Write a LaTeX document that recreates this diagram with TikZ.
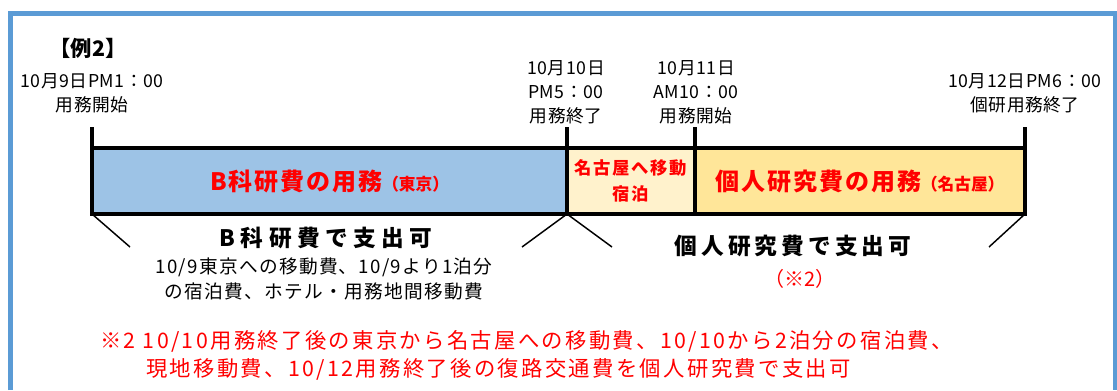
\documentclass[tikz,border=0pt]{standalone}
\usepackage{fontspec}
\setmainfont{Noto Sans CJK JP}
\usetikzlibrary{positioning}

\definecolor{frameblue}{HTML}{5B9BD5}
\definecolor{kakenblue}{HTML}{9DC3E6}
\definecolor{stayyellow}{HTML}{FFF2CC}
\definecolor{privyellow}{HTML}{FFE699}
\definecolor{notered}{HTML}{FF0000}

\begin{document}
\begin{tikzpicture}
[x=0.75pt, y=-0.75pt, inner sep=0pt, line join=miter]
\tikzstyle{frame}=[draw=frameblue, line width=3.4pt]
\tikzstyle{seg}=[rectangle, draw, line width=3pt, outer sep=0pt, minimum height=49.5pt, align=center, text=notered]
\tikzstyle{tick}=[line width=3pt]
\tikzstyle{brace}=[line width=1.1pt]
\tikzstyle{date}=[align=center, font=\fontsize{13.3}{18}\selectfont\addfontfeature{LetterSpace=3}]
\tikzstyle{detail}=[align=center, font=\fontsize{14}{18.75}\selectfont\addfontfeature{LetterSpace=7}]
\tikzstyle{note}=[align=left, text=notered, font=\fontsize{16}{21}\selectfont\addfontfeature{LetterSpace=11}]

\useasboundingbox (0,0) rectangle (1117,390);
\draw[frame] (10.5,390) -- (10.5,13.7) -- (1115,13.7) -- (1115,390);

\node[font=\fontsize{16}{18}\selectfont\bfseries] (ex_2) at (88,48) {【例2】};

% time line
\node[seg, fill=kakenblue, minimum width=356.25pt] (seg_tokyo) at (329.5,181)
  {{\fontsize{18}{20}\selectfont\bfseries\addfontfeature{LetterSpace=8}B科研費の用務}{\fontsize{12.5}{14}\selectfont\bfseries（東京）}};
\node[seg, fill=stayyellow, minimum width=96pt, right=0pt of seg_tokyo, font=\fontsize{13}{20}\selectfont\bfseries\addfontfeature{LetterSpace=10}] (seg_stay) {名古屋へ移動\\宿泊};
\node[seg, fill=privyellow, minimum width=247.5pt, right=0pt of seg_stay] (seg_nagoya)
  {{\fontsize{18}{20}\selectfont\bfseries\addfontfeature{LetterSpace=8}個人研究費の用務}{\fontsize{12.5}{14}\selectfont\bfseries（名古屋）}};

\draw[tick] (seg_tokyo.north west) -- ++(0,-21);
\draw[tick] (seg_tokyo.north east) -- ++(0,-21);
\draw[tick] (seg_stay.north east) -- ++(0,-21);
\draw[tick] (seg_nagoya.north east) -- ++(0,-21);

\node[date] (t_9) at (92,93) {10月9日PM1：00\\用務開始};
\node[date] (t_10) at (566,92) {10月10日\\PM5：00\\用務終了};
\node[date] (t_11) at (696,92) {10月11日\\AM10：00\\用務開始};
\node[date] (t_12) at (1025,93) {10月12日PM6：00\\個研用務終了};

% who pays
\coordinate (b_1) at (130,247);
\coordinate (b_2) at (522,247);
\coordinate (b_3) at (612,247);
\coordinate (b_4) at (989,247);
\draw[brace] (seg_tokyo.south west) -- (b_1);
\draw[brace] (seg_tokyo.south east) -- (b_2);
\draw[brace] (seg_stay.south west) -- (b_3);
\draw[brace] (seg_nagoya.south east) -- (b_4);

\node[font=\fontsize{17}{20}\selectfont\bfseries\addfontfeature{LetterSpace=24}] (kaken_ok) at (326,238) {B科研費で支出可};
\node[detail] (kaken_detail) at (324,279) {10/9東京への移動費、10/9より1泊分\\の宿泊費、ホテル・用務地間移動費};
\node[font=\fontsize{17}{20}\selectfont\bfseries\addfontfeature{LetterSpace=18}] (priv_ok) at (793,246) {個人研究費で支出可};
\node[text=notered, font=\fontsize{15}{18}\selectfont] (priv_ref) at (800,279) {（※2）};

\node[note, anchor=west] (note_2) at (100,355)
  {※2 10/10用務終了後の東京から名古屋への移動費、10/10から2泊分の宿泊費、\\\hspace*{34.5pt}現地移動費、10/12用務終了後の復路交通費を個人研究費で支出可};
\end{tikzpicture}
\end{document}
